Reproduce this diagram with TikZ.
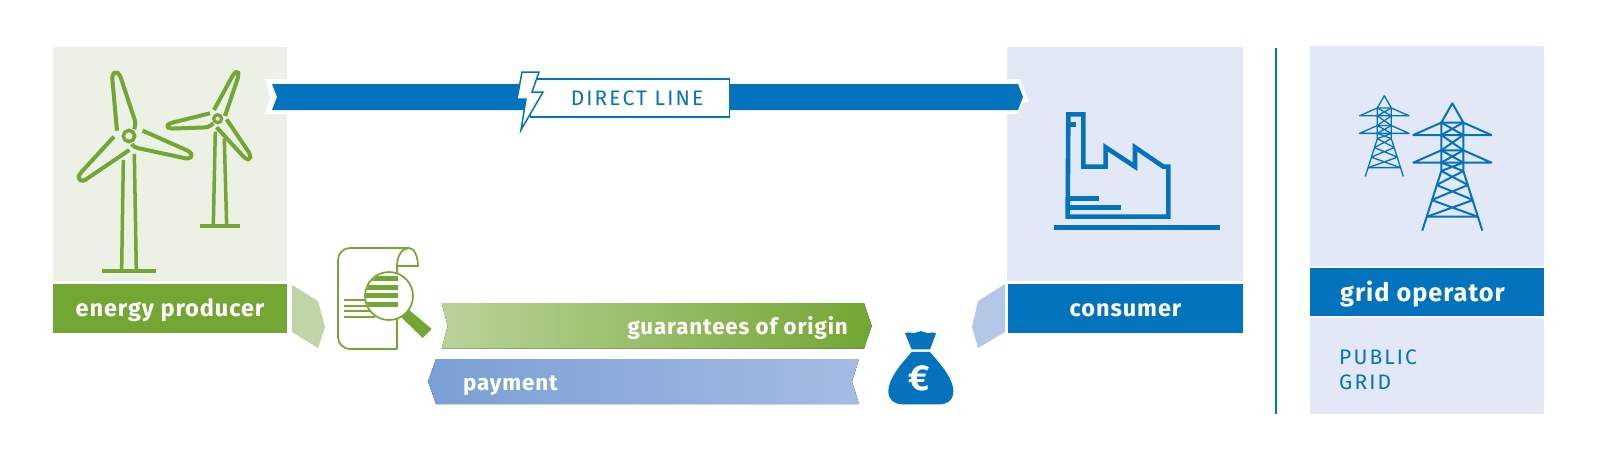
\documentclass[tikz,border=0pt]{standalone}
\usepackage{fontspec}
\usetikzlibrary{positioning,calc}
\newfontfamily\boldlabel[LetterSpace=4]{Fira Sans}
\newfontfamily\thinlabel[LetterSpace=10]{Fira Sans}
\definecolor{prodColor}{HTML}{74A633}
\definecolor{prodPale}{HTML}{EBF1E4}
\definecolor{prodChev}{HTML}{C0D5A5}
\definecolor{consColor}{HTML}{0373BD}
\definecolor{consPale}{HTML}{E3E8F6}
\definecolor{consChev}{HTML}{B5C7E6}
\definecolor{payLeft}{HTML}{7A9FD4}
\definecolor{payRight}{HTML}{A5BBE2}
\tikzset{
	panel/.style={minimum width=#1,minimum height=234pt,inner sep=0pt},
	label bar/.style={minimum width=234.5pt,minimum height=48.5pt,inner sep=0pt,text=white,text height=20.4pt,text depth=4pt,font=\boldlabel\bfseries\fontsize{23.5}{26}\selectfont},
	band text/.style={inner sep=0pt,text=white,font=\boldlabel\bfseries\fontsize{22.3}{26}\selectfont},
	thin text/.style={inner sep=0pt,text=consColor,font=\thinlabel\fontsize{21}{25}\selectfont},
	icon/.style={x=.3333pt,y=-.3333pt},
	turbine/.style={draw=prodColor,line width=4pt,line join=round,rounded corners=3pt},
	mast/.style={draw=prodColor,line width=3.5pt},
	pics/pylon/.style={code={
		\draw[line join=round] (-11,19.3) -- (0,0) -- (11,19.3) (-39,31.7) -- (-11,19.3) -- (11,19.3) -- (39,31.7) -- cycle
			(-39,59.3) -- (-11,47) -- (11,47) -- (39,59.3) -- cycle
			(-11,19.3) -- (-11,67.7) -- (-30,127.3) (11,19.3) -- (11,67.7) -- (30,127.3)
			(-25,113.3) -- (25,113.3);
		\foreach \ya/\wa/\yb/\wb in {19.3/11/31.7/11,31.7/11/47/11,47/11/59.3/11,59.3/11/67.7/11,67.7/11/81.7/15.7,81.7/15.7/96.7/20.7,96.7/20.7/113.3/25}
			\draw (-\wa,\ya) -- (\wb,\yb) (\wa,\ya) -- (-\wb,\yb);
	}}
}
\begin{document}
\begin{tikzpicture}[x=1pt,y=-1pt]
	\useasboundingbox (0,0) rectangle (1597,461);
	% panels
	\node[panel=234pt,fill=prodPale] at (170,164) (producer panel) {};
	\node[panel=236pt,fill=consPale] at (1125,164) (consumer panel) {};
	\node[panel=234pt,minimum height=368pt,fill=consPale] at (1427,230) (grid panel) {};
	\node[label bar,fill=prodColor] at (170,308.5) (producer) {energy producer};
	\node[label bar,minimum width=235pt,fill=consColor] at (1125.5,308.5) (consumer) {consumer};
	\node[label bar,minimum width=236pt,minimum height=50pt,fill=consColor,draw=white,line width=2pt,text height=23pt,font=\boldlabel\bfseries\fontsize{25.3}{28}\selectfont] at (1427,291.5) (grid operator) {\hspace*{-9pt}grid operator};
	\node[thin text,align=left,anchor=north west,font=\thinlabel\fontsize{21}{25}\selectfont] at (1339,349.5) (public grid) {PUBLIC\\GRID};
	\draw[consColor,line width=2pt] (1276,48) -- (1276,414);
	% direct line
	\fill[white] (265,79) -- (287,79) -- (287,114) -- (265,114) -- (270,97) -- cycle;
	\fill[white] (1007,79) -- (1020,79) -- (1029,102) -- (1023,102) -- (1018,114) -- (1007,114) -- cycle;
	\fill[consColor] (272,84) -- (1018,84) -- (1023,97) -- (1018,110) -- (272,110) -- (277,97) -- cycle;
	\node[draw=consColor,fill=white,line width=1.6pt,minimum width=199pt,minimum height=38.5pt,inner sep=0pt] at (630,98) (line box) {};
	\node[thin text] at (637,98) (line text) {DIRECT LINE};
	\draw[consColor,fill=white,line width=1.5pt,line join=miter] (522,72) -- (539,72) -- (532,92) -- (543,92) -- (521,130) -- (526,99) -- (517,99) -- cycle;
	% turbines
	\begin{scope}[shift={(40,40)},icon]
		\draw[turbine] (231,272) -- (216,105) -- (227,94) -- (239,103) -- (287,248) -- (283,268);
		\draw[turbine] (308,272) -- (450,335) -- (458,348) -- (446,357) -- (283,322) -- (275,312);
		\draw[turbine] (222,290) -- (118,403) -- (114,416) -- (128,425) -- (268,330);
		\draw[prodColor,line width=3.5pt] (267,288) circle (17);
		\draw[mast] (250,360) -- (245,690) (283,342) -- (289,690);
		\draw[prodColor,line width=4pt] (187,692) -- (347,692);
		\draw[turbine] (522,210) -- (582,100) -- (592,94) -- (597,104) -- (555,228);
		\draw[turbine] (510,220) -- (388,250) -- (380,258) -- (388,266) -- (505,262) -- (520,250);
		\draw[turbine] (560,238) -- (632,345) -- (630,358) -- (618,358) -- (530,262);
		\draw[prodColor,line width=3.2pt] (533,236) circle (12);
		\draw[mast] (526,275) -- (520,555) (553,295) -- (560,555);
		\draw[prodColor,line width=4pt] (480,559) -- (600,559);
	\end{scope}
	% chevrons
	\fill[prodChev] (292,285) -- (318,301) -- (325,327) -- (318,348) -- (292,332) -- cycle;
	\fill[consChev] (1005,284) -- (978,301) -- (972,327) -- (978,348) -- (1005,332) -- cycle;
	% document
	\draw[prodColor,line width=1.7pt,rounded corners=12pt] (397,349) -- (338,349) -- (338,248) -- (409,248);
	\draw[prodColor,line width=1.7pt] (397,349) -- (397,266) -- (418,266) .. controls (418,256) and (414,248) .. (409,248) .. controls (402,248) and (397,256) .. (397,266);
	\foreach \ypos in {300,306,311,317}
		\draw[prodColor,line width=1.7pt] (344,\ypos) -- (375,\ypos);
	\fill[prodColor] (401,317) -- (408,309) -- (431.7,329) -- (422.7,338) -- cycle;
	\draw[prodColor,fill=white,line width=1.7pt] (389,296) circle (24);
	\begin{scope}
		\clip (389,296) circle (23);
		\foreach \ypos in {278,287,295,304}
			\fill[prodColor] (360,\ypos-2.5) rectangle (398,\ypos+2.5);
	\end{scope}
	% gradient bands
	\fill[left color=prodColor!50!white,right color=prodColor] (441.7,303) -- (864,303) -- (871.7,326) -- (864,348.5) -- (441.7,348.5) -- (447.7,326) -- cycle;
	\node[band text,anchor=east] at (848,328) (origin) {guarantees of origin};
	\fill[left color=payLeft,right color=payRight] (436,359) -- (859,359) -- (852,381.5) -- (859,404) -- (436,404) -- (428,381.5) -- cycle;
	\node[band text,anchor=west] at (463,386) (payment) {payment};
	% money bag
	\begin{scope}[shift={(820,270)},icon]
		\fill[consColor] (255,190) .. controls (270,182) and (280,195) .. (290,187) .. controls (297,182) and (307,182) .. (315,187) .. controls (325,195) and (335,182) .. (348,190) -- (330,238) -- (275,238) -- cycle;
		\fill[consColor] (275,246) -- (330,246) .. controls (350,270) and (400,320) .. (400,365) .. controls (400,395) and (375,403) .. (360,403) -- (245,403) .. controls (225,403) and (205,390) .. (205,365) .. controls (205,320) and (255,270) .. (275,246) -- cycle;
		\node[text=white,inner sep=0pt,font=\fontspec{Fira Sans}\bfseries\fontsize{36}{36}\selectfont] at (298,325) (euro) {€};
	\end{scope}
	% factory
	\begin{scope}[shift={(980,70)},icon]
		\draw[consColor,line width=4.6pt,line join=miter] (263,440) -- (265,133) -- (310,133) -- (310,290) -- (377,290) -- (377,232) -- (465,290) -- (465,232) -- (550,290) -- (565,290) -- (565,440) -- cycle;
		\draw[consColor,line width=4.6pt] (270,385) -- (357,385) (270,412) -- (423,412) (270,163) -- (288,163);
		\draw[consColor,line width=5pt] (222,472) -- (720,472);
	\end{scope}
	% pylons
	\pic[consColor,line width=1.3pt,scale=.635] at (1384.3,95.7) {pylon};
	\pic[consColor,line width=2pt] at (1452.3,103.3) {pylon};
\end{tikzpicture}
\end{document}
